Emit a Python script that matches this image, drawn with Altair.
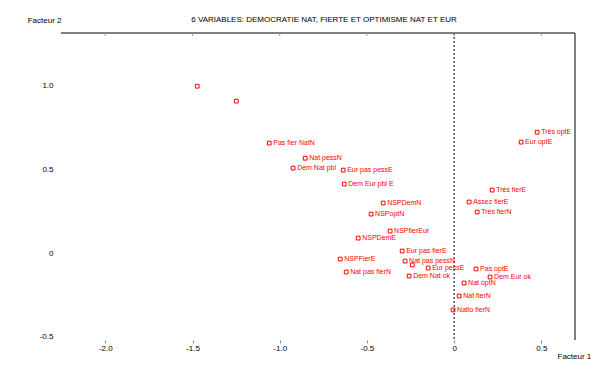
import altair as alt
import pandas as pd

labels = ["", "", "Pas fier NatN", "Nat pessN", "Dem Nat pbl", "Eur pas pessE",
          "Dem Eur pbl E", "NSPDemN", "NSPoptN", "NSPfierEur", "NSPDemE",
          "Eur pas fierE", "Nat pas pessN", "NSPFierE", "Nat pas fierN", "",
          "Eur pessE", "Dem Nat ok", "Pas optE", "Dem Eur ok", "Nat optN",
          "Nat fierN", "Natio fierN", "Très optE", "Eur optE", "Très fierE",
          "Assez fierE", "Très fierN"]
fact1 = [-1.473, -1.249, -1.060, -0.854, -0.923, -0.636,
         -0.630, -0.407, -0.476, -0.367, -0.550,
         -0.298, -0.281, -0.653, -0.619, -0.240,
         -0.149, -0.258, 0.126, 0.206, 0.057,
         0.029, -0.006, 0.476, 0.384, 0.218,
         0.086, 0.132]
fact2 = [0.994, 0.905, 0.655, 0.565, 0.506, 0.494,
         0.411, 0.298, 0.232, 0.131, 0.089,
         0.012, -0.048, -0.036, -0.113, -0.071,
         -0.089, -0.137, -0.095, -0.143, -0.179,
         -0.256, -0.339, 0.720, 0.661, 0.375,
         0.304, 0.244]

x_ticks = [-2.0, -1.5, -1.0, -0.5, 0.0, 0.5]
y_ticks = [-0.5, 0.0, 0.5, 1.0]
x_domain = [-2.254, 0.693]
y_domain = [-0.518, 1.311]

title_text = "6 VARIABLES: DEMOCRATIE NAT, FIERTE ET OPTIMISME NAT ET EUR"

df = pd.DataFrame({"label": labels, "f1": fact1, "f2": fact2})
ticks_df = pd.DataFrame({"t": x_ticks})
zero_df = pd.DataFrame({"z": [0.0]})
title_df = pd.DataFrame({"title": [title_text]})

W, H = 514, 307
FONT = "Liberation Sans"
RED = "#ff0000"
lab_expr = "datum.value == 0 ? '0' : (datum.value < 0 ? '-' : '') + format(abs(datum.value), '.1f')"

xs = alt.Scale(domain=x_domain, nice=False, zero=False)
ys = alt.Scale(domain=y_domain, nice=False, zero=False)

xaxis = alt.Axis(values=x_ticks, labelExpr=lab_expr, grid=False, domain=False,
                 ticks=True, tickSize=3, tickColor="#888888", labelPadding=1,
                 labelFontSize=8, labelFont=FONT, labelColor="black",
                 title="Facteur 1", titleFont=FONT, titleFontSize=8, titleFontWeight="normal",
                 titleAlign="left", titleBaseline="middle", titleX=496, titleY=16,
                 titleColor="black")
yaxis = alt.Axis(values=y_ticks, labelExpr=lab_expr, grid=False, domain=False,
                 ticks=False, labelPadding=8, labelFontSize=8, labelFont=FONT,
                 labelColor="black",
                 title="Facteur 2", titleFont=FONT, titleFontSize=8, titleFontWeight="normal",
                 titleAngle=0, titleAlign="right", titleBaseline="middle",
                 titleX=0, titleY=-13, titleColor="black")

base = alt.Chart(df)

points = base.mark_point(shape="square", filled=False, size=14, strokeWidth=1,
                         color=RED, opacity=1).encode(
    x=alt.X("f1:Q", scale=xs, axis=xaxis),
    y=alt.Y("f2:Q", scale=ys, axis=yaxis),
)
texts = base.mark_text(align="left", baseline="middle", dx=4, fontSize=7,
                       font=FONT, color=RED).encode(
    x=alt.X("f1:Q", scale=xs),
    y=alt.Y("f2:Q", scale=ys),
    text="label:N",
)
zero_line = alt.Chart(zero_df).mark_rule(color="black", strokeDash=[2, 2],
                                          strokeWidth=1).encode(
    x=alt.X("z:Q", scale=xs)
)
top_border = alt.Chart(zero_df).mark_rule(color="black", strokeWidth=1).encode(
    x=alt.value(0), x2=alt.value(W), y=alt.value(0)
)
right_border = alt.Chart(zero_df).mark_rule(color="black", strokeWidth=1).encode(
    x=alt.value(W), y=alt.value(0), y2=alt.value(H)
)
top_ticks = alt.Chart(ticks_df).mark_rule(color="#999999", strokeWidth=1).encode(
    x=alt.X("t:Q", scale=xs), y=alt.value(0), y2=alt.value(3)
)
title_mark = alt.Chart(title_df).mark_text(font=FONT, fontSize=8, color="black",
                                          align="center", baseline="middle").encode(
    x=alt.value(263), y=alt.value(-13), text="title:N"
)

chart = alt.layer(zero_line, top_border, right_border, top_ticks, points, texts,
                  title_mark).properties(
    width=W, height=H,
    autosize=alt.AutoSizeParams(type="none"),
    padding={"left": 53, "top": 25, "right": 22, "bottom": 30},
).configure_view(stroke=None)

chart.save("out.html", embed_options={"renderer": "svg", "actions": False})
